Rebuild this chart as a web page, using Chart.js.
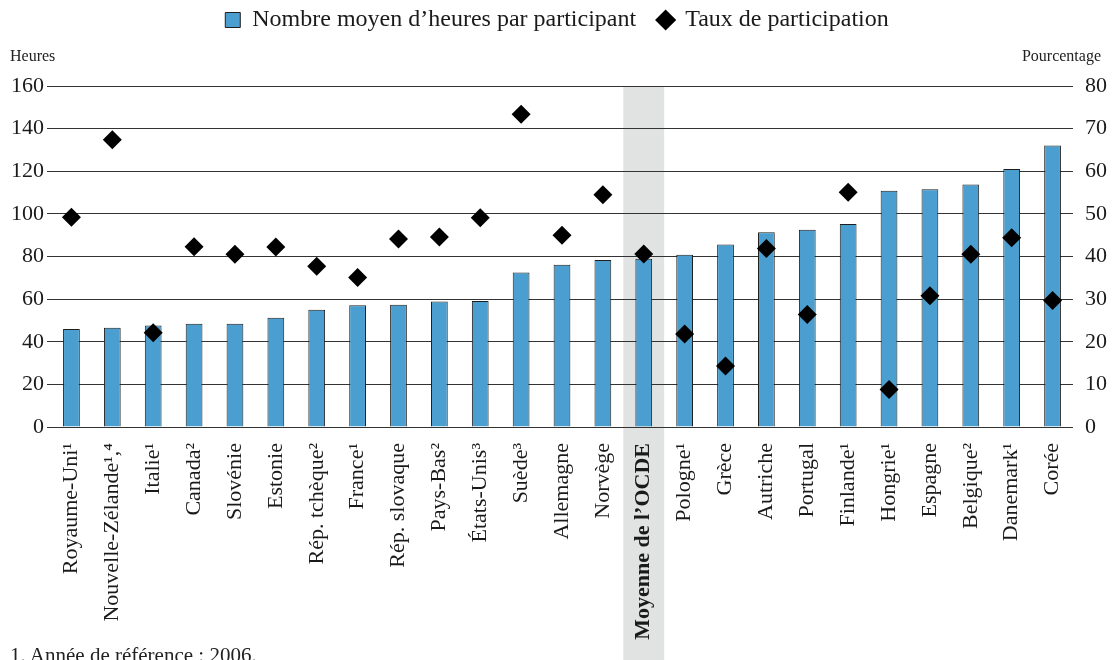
<!DOCTYPE html>
<html>
<head>
<meta charset="utf-8">
<script src="https://cdn.jsdelivr.net/npm/chart.js@4/dist/chart.umd.min.js"></script>
<style>
  html, body { margin: 0; padding: 0; background: #fff; overflow: hidden; }
  #wrap { position: relative; width: 1114px; height: 660px; overflow: hidden; }
  .note { position: absolute; font-family: 'Liberation Serif', serif; color: #222; white-space: nowrap; }
</style>
</head>
<body>
<div id="wrap">
  <canvas id="chart" width="1114" height="660"></canvas>
  <div class="note" style="left:10px; top:47px; font-size:16px;">Heures</div>
  <div class="note" style="right:13px; top:47px; font-size:16px;">Pourcentage</div>
  <div class="note" style="left:10px; top:643px; font-size:21px;">1. Année de référence : 2006.</div>
</div>
<script>
const countries = [
    'Royaume-Uni¹', 'Nouvelle-Zélande¹,⁴', 'Italie¹', 'Canada²', 'Slovénie', 'Estonie',
    'Rép. tchèque²', 'France¹', 'Rép. slovaque', 'Pays-Bas²', 'États-Unis³', 'Suède³',
    'Allemagne', 'Norvège', 'Moyenne de l’OCDE', 'Pologne¹', 'Grèce', 'Autriche',
    'Portugal', 'Finlande¹', 'Hongrie¹', 'Espagne', 'Belgique²', 'Danemark¹', 'Corée'
];
// nombre moyen d'heures par participant (axe de gauche)
const hours = [
    46.0, 46.6, 47.6, 48.5, 48.5, 51.3, 55.0, 57.1, 57.4, 58.9, 59.1, 72.5,
    76.1, 78.3, 78.9, 80.8, 85.6, 91.4, 92.5, 95.3, 110.9, 111.5, 113.8, 121.0, 132.1
];
// taux de participation en % (axe de droite)
const rate = [
    49.2, 67.4, 22.1, 42.3, 40.5, 42.2, 37.7, 35.1, 44.1, 44.6, 49.1, 73.4,
    45.0, 54.5, 40.6, 21.8, 14.3, 41.9, 26.4, 55.1, 8.8, 30.8, 40.5, 44.4, 29.7
];
const oecdIndex = 14;

const FONT = "'Liberation Serif', serif";

// grey band behind the OECD average
const bandPlugin = {
    id: 'oecdBand',
    beforeDraw(chart) {
        const x = chart.scales.x;
        const ctx = chart.ctx;
        const w = x.getPixelForValue(1) - x.getPixelForValue(0);
        const cx = x.getPixelForValue(oecdIndex);
        ctx.save();
        ctx.fillStyle = '#e1e3e3';
        ctx.fillRect(cx - w / 2, chart.chartArea.top, w, chart.height - chart.chartArea.top);
        ctx.restore();
    }
};

// extra room under the legend
const legendGap = {
    id: 'legendGap',
    beforeInit(chart) {
        const fit = chart.legend.fit;
        chart.legend.fit = function () {
            fit.bind(chart.legend)();
            this.height += 44;
        };
    }
};

new Chart(document.getElementById('chart'), {
    type: 'bar',
    data: {
        labels: countries,
        datasets: [
            {
                type: 'line',
                label: 'Taux de participation',
                data: rate,
                yAxisID: 'y1',
                showLine: false,
                pointStyle: 'rectRot',
                pointRadius: 9.5,
                pointHoverRadius: 9.5,
                backgroundColor: '#000',
                borderColor: '#000',
                borderWidth: 0,
                order: 1
            },
            {
                label: 'Nombre moyen d’heures par participant',
                data: hours,
                yAxisID: 'y',
                backgroundColor: '#4a9fd0',
                borderColor: '#1e1e1e',
                borderWidth: 1,
                pointStyle: 'rect',
                barPercentage: 0.41,
                categoryPercentage: 1,
                order: 2
            }
        ]
    },
    options: {
        responsive: false,
        animation: false,
        layout: { padding: { top: -14, left: 0, right: 0, bottom: 0 } },
        plugins: {
            tooltip: { enabled: false },
            legend: {
                position: 'top',
                reverse: true,
                labels: {
                    usePointStyle: true,
                    boxHeight: 15,
                    boxWidth: 15,
                    padding: 22,
                    color: '#1a1a1a',
                    font: { family: FONT, size: 24 }
                }
            }
        },
        scales: {
            x: {
                grid: { display: false },
                border: { display: false },
                ticks: {
                    autoSkip: false,
                    minRotation: 90,
                    maxRotation: 90,
                    padding: 8,
                    color: '#1a1a1a',
                    font: (ctx) => ({
                        family: FONT,
                        size: 22,
                        weight: ctx.index === oecdIndex ? 'bold' : 'normal'
                    })
                },
                afterFit(scale) { scale.height = 233; }
            },
            y: {
                position: 'left',
                min: 0,
                max: 160,
                grid: { color: '#333', lineWidth: 1, tickLength: 4 },
                border: { display: false },
                ticks: {
                    stepSize: 20,
                    padding: 3,
                    color: '#1a1a1a',
                    font: { family: FONT, size: 22 }
                },
                afterFit(scale) { scale.width = 51; }
            },
            y1: {
                position: 'right',
                min: 0,
                max: 80,
                grid: { display: false },
                border: { display: false },
                ticks: {
                    stepSize: 10,
                    padding: 4,
                    color: '#1a1a1a',
                    font: { family: FONT, size: 22 }
                },
                afterFit(scale) { scale.width = 41; }
            }
        }
    },
    plugins: [bandPlugin, legendGap]
});
</script>
</body>
</html>
